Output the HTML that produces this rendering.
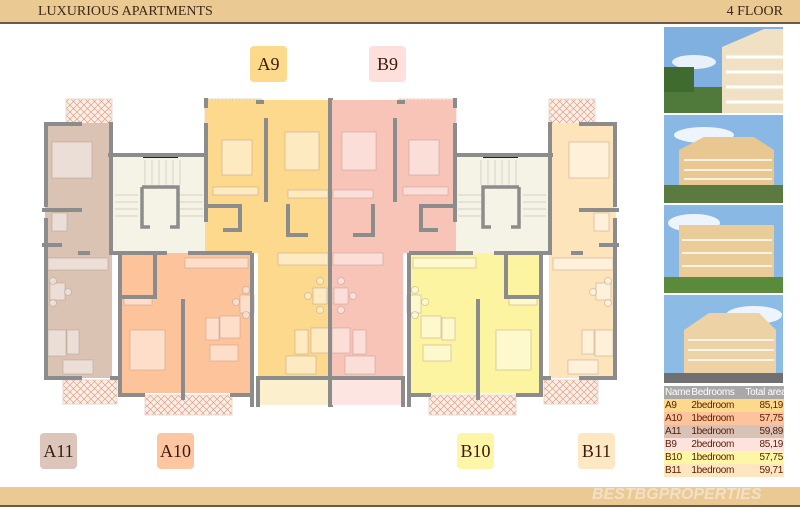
<!DOCTYPE html>
<html><head><meta charset="utf-8"><style>
html,body{margin:0;padding:0;background:#fff;}
body{width:800px;height:513px;overflow:hidden;position:relative;font-family:"Liberation Serif",serif;}
.band{position:absolute;left:0;width:800px;background:#ebc993;}
.top{top:0;height:22px;border-bottom:2px solid #6b5a45;}
.bot{top:487px;height:18px;border-bottom:2px solid #6b5a45;}
.t{position:absolute;top:4px;font-size:14px;color:#3a2a1a;}
.lab{position:absolute;width:37px;height:36px;border-radius:4px;font-size:18px;color:#3a1a0a;text-align:center;line-height:36px;}
.ph{position:absolute;left:664px;width:119px;}
table{position:absolute;left:664px;top:386px;width:120px;table-layout:fixed;border-collapse:collapse;font-family:"Liberation Sans",sans-serif;font-size:10px;letter-spacing:-0.3px;color:#5a1a00;}
td{padding:0 1px;height:13px;line-height:12px;white-space:nowrap;overflow:hidden;}
td.r{text-align:right}
</style></head><body>
<div class="band top"></div>
<div class="t" style="left:38px">LUXURIOUS APARTMENTS</div>
<div class="t" style="right:17px">4 FLOOR</div>

<svg width="800" height="513" style="position:absolute;left:0;top:0">
<defs>
<pattern id="hx" width="7" height="7" patternUnits="userSpaceOnUse">
<rect width="7" height="7" fill="#fdeee4"/>
<path d="M0 0L7 7M7 0L0 7" stroke="#d9a08a" stroke-width="0.7"/>
</pattern>
<g id="half">
<rect x="66" y="99" width="46" height="25" fill="url(#hx)" stroke="#e8d8d0"/>
<rect x="205" y="99" width="57" height="26" fill="url(#hx)" stroke="#e8d8d0"/>
<rect x="63" y="380" width="54" height="24" fill="url(#hx)" stroke="#e8d8d0"/>
<rect x="145" y="395" width="87" height="20" fill="url(#hx)" stroke="#e8d8d0"/>
<rect x="45" y="123" width="67" height="255" style="fill:var(--c1)"/>
<rect x="110" y="155" width="97" height="98" fill="#f5f3e6"/>
<rect x="120" y="253" width="132" height="140" style="fill:var(--c2)"/>
<path d="M205 100H330V378H258V253H205Z" style="fill:var(--c3)"/>
<rect x="258" y="378" width="72" height="27" style="fill:var(--c4)"/>
<g stroke="#c8c6b8" stroke-width="0.7" fill="none">
<path d="M145 160V185M152 160V185M159 160V185M166 160V185M173 160V185M180 160V185"/>
<path d="M115 195H138M115 202H138M115 209H138M115 216H138M180 195H203M180 202H203M180 209H203M180 216H203"/>
</g>
<path d="M142 187H178V227H170M142 187V227H150" fill="#f5f3e6" stroke="#8c8c8c" stroke-width="3.5"/>
<rect x="143" y="156" width="35" height="2" fill="#222"/>
<g fill="#fff" fill-opacity="0.45" stroke="#b08f80" stroke-opacity="0.5" stroke-width="0.8">
<rect x="52" y="142" width="40" height="36"/>
<rect x="130" y="330" width="35" height="40"/>
<rect x="222" y="140" width="30" height="35"/>
<rect x="285" y="132" width="34" height="38"/>
<rect x="48" y="330" width="18" height="26"/><rect x="67" y="330" width="12" height="24"/>
<rect x="63" y="360" width="30" height="14"/>
<rect x="210" y="345" width="28" height="16"/><rect x="206" y="318" width="13" height="22"/><rect x="220" y="316" width="20" height="22"/>
<rect x="295" y="330" width="13" height="24"/><rect x="311" y="328" width="18" height="25"/>
<rect x="286" y="356" width="30" height="18"/>
<rect x="48" y="258" width="60" height="12"/>
<rect x="185" y="258" width="63" height="10"/>
<rect x="278" y="253" width="50" height="12"/>
<rect x="50" y="283" width="15" height="17"/>
<rect x="240" y="295" width="14" height="18"/>
<rect x="313" y="288" width="14" height="16"/>
<circle cx="53" cy="281" r="3.5"/><circle cx="53" cy="303" r="3.5"/><circle cx="68" cy="292" r="3.5"/>
<circle cx="236" cy="302" r="3.5"/><circle cx="246" cy="290" r="3.5"/><circle cx="246" cy="315" r="3.5"/>
<circle cx="308" cy="296" r="3.5"/><circle cx="320" cy="281" r="3.5"/><circle cx="320" cy="310" r="3.5"/>
<rect x="52" y="213" width="15" height="18"/>
<rect x="124" y="298" width="28" height="7"/>
<rect x="213" y="187" width="45" height="8"/>
<rect x="288" y="190" width="40" height="8"/>
</g>
<g stroke="#8c8c8c" stroke-width="4" fill="none" stroke-linecap="square">
<path d="M80 124H46V205"/><path d="M46 220V378H80"/>
<path d="M111 124V250"/><path d="M110 155H203"/><path d="M206 125V220"/><path d="M206 106V100"/>
<path d="M44 210H80"/><path d="M80 253H88"/><path d="M44 245H60"/>
<path d="M120 255V395H143"/><path d="M232 395H252V405"/><path d="M252 255V400"/>
<path d="M111 253H165"/><path d="M190 253H250"/>
<path d="M183 301V398"/>
<path d="M122 297H155V255"/>
<path d="M258 378V405"/><path d="M260 378H330"/>
<path d="M331 100V405"/><path d="M266 120V200"/>
<path d="M258 102H262"/>
<path d="M210 206H240V230H225"/>
<path d="M288 206V235H306"/>
<path d="M112 378H116"/>
</g>
</g>
</defs>
<use href="#half" style="--c1:#dbc3b4;--c2:#fdc49c;--c3:#fdd98d;--c4:#fcefcd"/>
<use href="#half" transform="translate(661,0) scale(-1,1)" style="--c1:#fde4ba;--c2:#fdf4a2;--c3:#f9c4b8;--c4:#fde6e2"/>
</svg>

<div class="lab" style="left:250px;top:46px;background:#fcd98b">A9</div>
<div class="lab" style="left:369px;top:46px;background:#fde0dc">B9</div>
<div class="lab" style="left:40px;top:433px;background:#dcc6bb">A11</div>
<div class="lab" style="left:157px;top:433px;background:#fdc6a1">A10</div>
<div class="lab" style="left:457px;top:433px;background:#fdf5a8">B10</div>
<div class="lab" style="left:578px;top:433px;background:#fde8c4">B11</div>

<svg class="ph" style="top:27px" width="119" height="86"><rect width="119" height="86" fill="#7fb0e0"/><ellipse cx="30" cy="35" rx="22" ry="7" fill="#e8f0fa"/><rect y="60" width="119" height="26" fill="#4f7a3c"/><rect x="0" y="40" width="30" height="25" fill="#3f6a30"/><path d="M58 20L100 2H119V86H58Z" fill="#f0e0c4"/><path d="M62 30H119M62 45H119M62 60H119M62 75H119" stroke="#fff" stroke-width="3"/></svg>
<svg class="ph" style="top:115px" width="119" height="88"><rect width="119" height="88" fill="#8ab8e4"/><ellipse cx="40" cy="20" rx="30" ry="8" fill="#eef4fb"/><path d="M15 35L40 22H90L110 35V72H15Z" fill="#e8c890"/><path d="M20 45H108M20 55H108M20 64H108" stroke="#fff" stroke-width="1.5"/><rect y="70" width="119" height="18" fill="#5a7a40"/></svg>
<svg class="ph" style="top:205px" width="119" height="88"><rect width="119" height="88" fill="#8ab8e4"/><ellipse cx="30" cy="18" rx="26" ry="9" fill="#eef4fb"/><rect x="15" y="20" width="95" height="55" fill="#e9cc98"/><path d="M18 35H108M18 48H108M18 61H108" stroke="#fff" stroke-width="1.5"/><rect y="72" width="119" height="16" fill="#5a8a3c"/></svg>
<svg class="ph" style="top:295px" width="119" height="88"><rect width="119" height="88" fill="#8cbce6"/><ellipse cx="90" cy="20" rx="28" ry="9" fill="#eef4fb"/><path d="M20 35L45 18H95L112 35V78H20Z" fill="#ecd2a4"/><path d="M24 45H110M24 55H110M24 65H110" stroke="#fff" stroke-width="1.5"/><rect y="78" width="119" height="10" fill="#707070"/></svg>

<table>
<colgroup><col style="width:22%"><col style="width:45%"><col style="width:33%"></colgroup>
<tr style="background:#a8a8a8;color:#fff"><td>Name</td><td>Bedrooms</td><td class="r">Total area</td></tr>
<tr style="background:#fcd98b"><td>A9</td><td>2bedroom</td><td class="r">85,19</td></tr>
<tr style="background:#fdc39c"><td>A10</td><td>1bedroom</td><td class="r">57,75</td></tr>
<tr style="background:#d8c2b6"><td>A11</td><td>1bedroom</td><td class="r">59,89</td></tr>
<tr style="background:#fde2de"><td>B9</td><td>2bedroom</td><td class="r">85,19</td></tr>
<tr style="background:#fdf6a4"><td>B10</td><td>1bedroom</td><td class="r">57,75</td></tr>
<tr style="background:#fde6c0"><td>B11</td><td>1bedroom</td><td class="r">59,71</td></tr>
</table>

<div class="band bot"></div>
<div style="position:absolute;left:592px;top:486px;font-family:'Liberation Sans',sans-serif;font-style:italic;font-weight:bold;font-size:16px;color:#f5ead8;opacity:0.75">BESTBGPROPERTIES</div>
</body></html>
